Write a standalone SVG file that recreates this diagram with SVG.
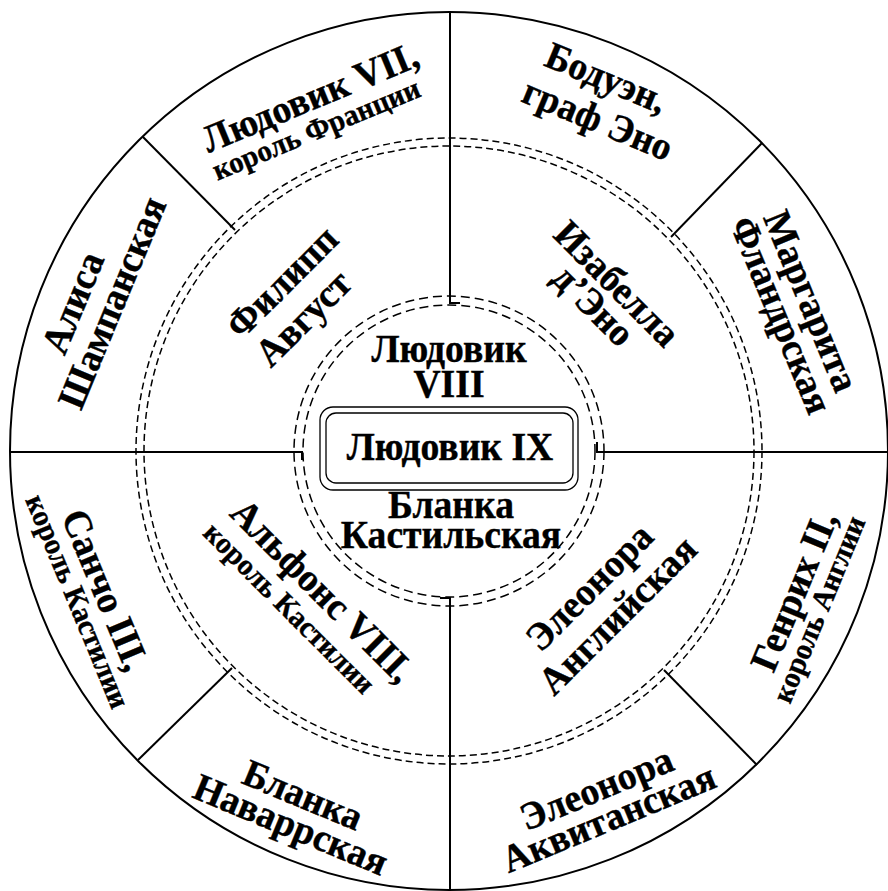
<svg xmlns="http://www.w3.org/2000/svg" width="888" height="891" viewBox="0 0 888 891">
<style>
.ln{fill:none;stroke:#000;stroke-width:2}
.d{fill:none;stroke:#000;stroke-width:1.5;stroke-dasharray:7 4}
.di{fill:none;stroke:#000;stroke-width:1.5;stroke-dasharray:9 5}
.box{fill:none;stroke:#000;stroke-width:1.3}
text{font-family:"Liberation Serif","Times New Roman",serif;font-weight:bold;fill:#000;stroke:#000;stroke-width:0.4;text-anchor:middle}
.n{font-size:39px;dominant-baseline:central}
.s{font-size:30px;dominant-baseline:central}
.c{font-size:39px}
</style>
<rect width="888" height="891" fill="#fff"/>
<g id="rings">
<circle class="ln" cx="449" cy="451" r="439"/>
<circle class="d" cx="449" cy="451" r="313"/>
<circle class="d" cx="449" cy="451" r="305"/>
<circle class="di" cx="449" cy="451" r="155"/>
<circle class="di" cx="449" cy="451" r="146"/>
</g>
<g id="connectors">
<path class="ln" d="M450,12V303H460"/>
<path class="ln" d="M10,452H302V460"/>
<path class="ln" d="M888,452H597V442"/>
<path class="ln" d="M450,890V598H440"/>
<path class="ln" d="M143,137L235,230"/>
<path class="ln" d="M762,143L671,237"/>
<path class="ln" d="M138,760L232,668"/>
<path class="ln" d="M664,670L757,765"/>
</g>
<g id="louis9">
<rect class="box" x="320" y="407" width="258" height="83" rx="13"/>
<rect class="box" x="326" y="413" width="247" height="70" rx="10"/>
<text class="c" transform="translate(450,460) scale(0.965,1)">Людовик IX</text>
</g>
<g id="louis8">
<text class="c" transform="translate(449,362) scale(0.965,1)">Людовик</text>
<text class="c" transform="translate(449,397) scale(0.965,1)">VIII</text>
</g>
<g id="blanche_castile">
<text class="c" transform="translate(451,518) scale(0.965,1)">Бланка</text>
<text class="c" transform="translate(451,548) scale(0.965,1)">Кастильская</text>
</g>
<g id="philippe">
<text class="n" transform="translate(281.7,281.7) rotate(-45) scale(0.965,1)">Филипп</text>
<text class="n" transform="translate(303,318) rotate(-45) scale(0.965,1)">Август</text>
</g>
<g id="isabelle">
<text class="n" transform="translate(617.3,283.3) rotate(45) scale(0.965,1)">Изабелла</text>
<text class="n" transform="translate(594,305) rotate(45) scale(0.965,1)">д’Эно</text>
</g>
<g id="alfonso">
<text class="n" transform="translate(322.8,590.6) rotate(45) scale(0.965,1)">Альфонс VIII,</text>
<text class="s" transform="translate(289.6,607.8) rotate(45) scale(0.965,1)">король Кастилии</text>
</g>
<g id="eleanor_england">
<text class="n" transform="translate(589,586.7) rotate(-45) scale(0.965,1)">Элеонора</text>
<text class="n" transform="translate(617.3,615) rotate(-45) scale(0.965,1)">Английская</text>
</g>
<g id="louis7">
<text class="n" transform="translate(310,97) rotate(-22.5) scale(0.965,1)">Людовик VII,</text>
<text class="s" transform="translate(316,129) rotate(-22.5) scale(0.965,1)">король Франции</text>
</g>
<g id="baudouin">
<text class="n" transform="translate(606.5,77.5) rotate(22.5) scale(0.965,1)">Бодуэн,</text>
<text class="n" transform="translate(598,119) rotate(22.5) scale(0.965,1)">граф Эно</text>
</g>
<g id="marguerite">
<text class="n" transform="translate(811.5,301) rotate(67.5) scale(0.965,1)">Маргарита</text>
<text class="n" transform="translate(781.5,315) rotate(67.5) scale(0.965,1)">Фландрская</text>
</g>
<g id="alix">
<text class="n" transform="translate(72.5,302.5) rotate(-67.5) scale(0.965,1)">Алиса</text>
<text class="n" transform="translate(111.7,302.5) rotate(-67.5) scale(0.965,1)">Шампанская</text>
</g>
<g id="sancho">
<text class="n" transform="translate(105.8,589.8) rotate(67.5) scale(0.965,1)">Санчо III,</text>
<text class="s" transform="translate(78,601.2) rotate(67.5) scale(0.965,1)">король Кастилии</text>
</g>
<g id="blanche_navarre">
<text class="n" transform="translate(303.1,794.7) rotate(22.5) scale(0.965,1)">Бланка</text>
<text class="n" transform="translate(290.9,824.3) rotate(22.5) scale(0.965,1)">Наваррская</text>
</g>
<g id="eleanor_aquitaine">
<text class="n" transform="translate(596.3,788.1) rotate(-22.5) scale(0.965,1)">Элеонора</text>
<text class="n" transform="translate(608.5,817.7) rotate(-22.5) scale(0.965,1)">Аквитанская</text>
</g>
<g id="henry2">
<text class="n" transform="translate(793.6,590.9) rotate(-67.5) scale(0.965,1)">Генрих II,</text>
<text class="s" transform="translate(818.6,609.1) rotate(-67.5) scale(0.965,1)">король Англии</text>
</g>
</svg>
